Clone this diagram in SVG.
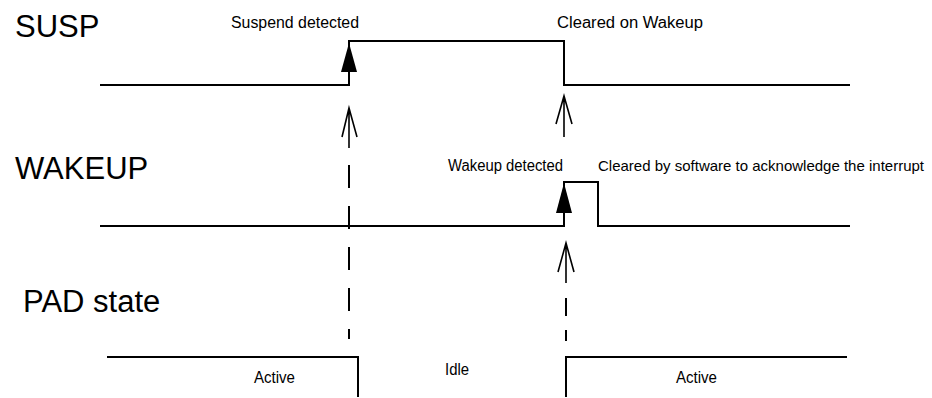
<svg xmlns="http://www.w3.org/2000/svg" width="932" height="398" viewBox="0 0 932 398">
<style>
.sig{fill:none;stroke:#000;stroke-width:2}
.title{font-family:"Liberation Sans",Arial,sans-serif;font-size:31px;fill:#000}
.lbl{font-family:"Liberation Sans",Arial,sans-serif;font-size:16px;fill:#000}
.arr{fill:none;stroke:#000;stroke-width:1.6}
.dash{fill:none;stroke:#000;stroke-width:2}
.head{fill:#000;stroke:none}
</style>
<rect width="932" height="398" fill="#fff"/>
<g id="susp">
<text class="title" x="15" y="37">SUSP</text>
<path class="sig" d="M100,85 H349 V41 H564 V85 H850"/>
<text class="lbl" x="231" y="28" textLength="128" lengthAdjust="spacingAndGlyphs">Suspend detected</text>
<text class="lbl" x="557" y="28" textLength="146" lengthAdjust="spacingAndGlyphs">Cleared on Wakeup</text>
</g>
<g id="wakeup">
<text class="title" x="15" y="179">WAKEUP</text>
<path class="sig" d="M100,226 H564 V182 H598 V226 H850"/>
<text class="lbl" x="448" y="171" textLength="115" lengthAdjust="spacingAndGlyphs">Wakeup detected</text>
<text class="lbl" x="598" y="171" style="font-size:15px" textLength="326" lengthAdjust="spacingAndGlyphs">Cleared by software to acknowledge the interrupt</text>
</g>
<g id="pad">
<text class="title" x="23" y="312">PAD state</text>
<path class="sig" d="M107,357 H358 V397"/>
<path class="sig" d="M566,397 V357 H847"/>
<text class="lbl" x="254" y="383" textLength="41" lengthAdjust="spacingAndGlyphs">Active</text>
<text class="lbl" x="445" y="375" textLength="24" lengthAdjust="spacingAndGlyphs">Idle</text>
<text class="lbl" x="676" y="383" textLength="41" lengthAdjust="spacingAndGlyphs">Active</text>
</g>
<g id="connectors">
<polygon class="head" points="349,43 341,72 357,72"/>
<polygon class="head" points="564,183 556,213 572,213"/>
<path class="arr" d="M342,137 L349,108 L357,137 M349,108 V148"/>
<line class="dash" x1="349" y1="165" x2="349" y2="339" stroke-dasharray="23 18"/>
<path class="arr" d="M556,124 L564,96 L572,124 M564,96 V137"/>
<path class="arr" d="M558,272 L566,243 L574,272 M566,243 V283"/>
<line class="dash" x1="566" y1="298" x2="566" y2="316"/>
<line class="dash" x1="566" y1="330" x2="566" y2="341"/>
</g>
</svg>
